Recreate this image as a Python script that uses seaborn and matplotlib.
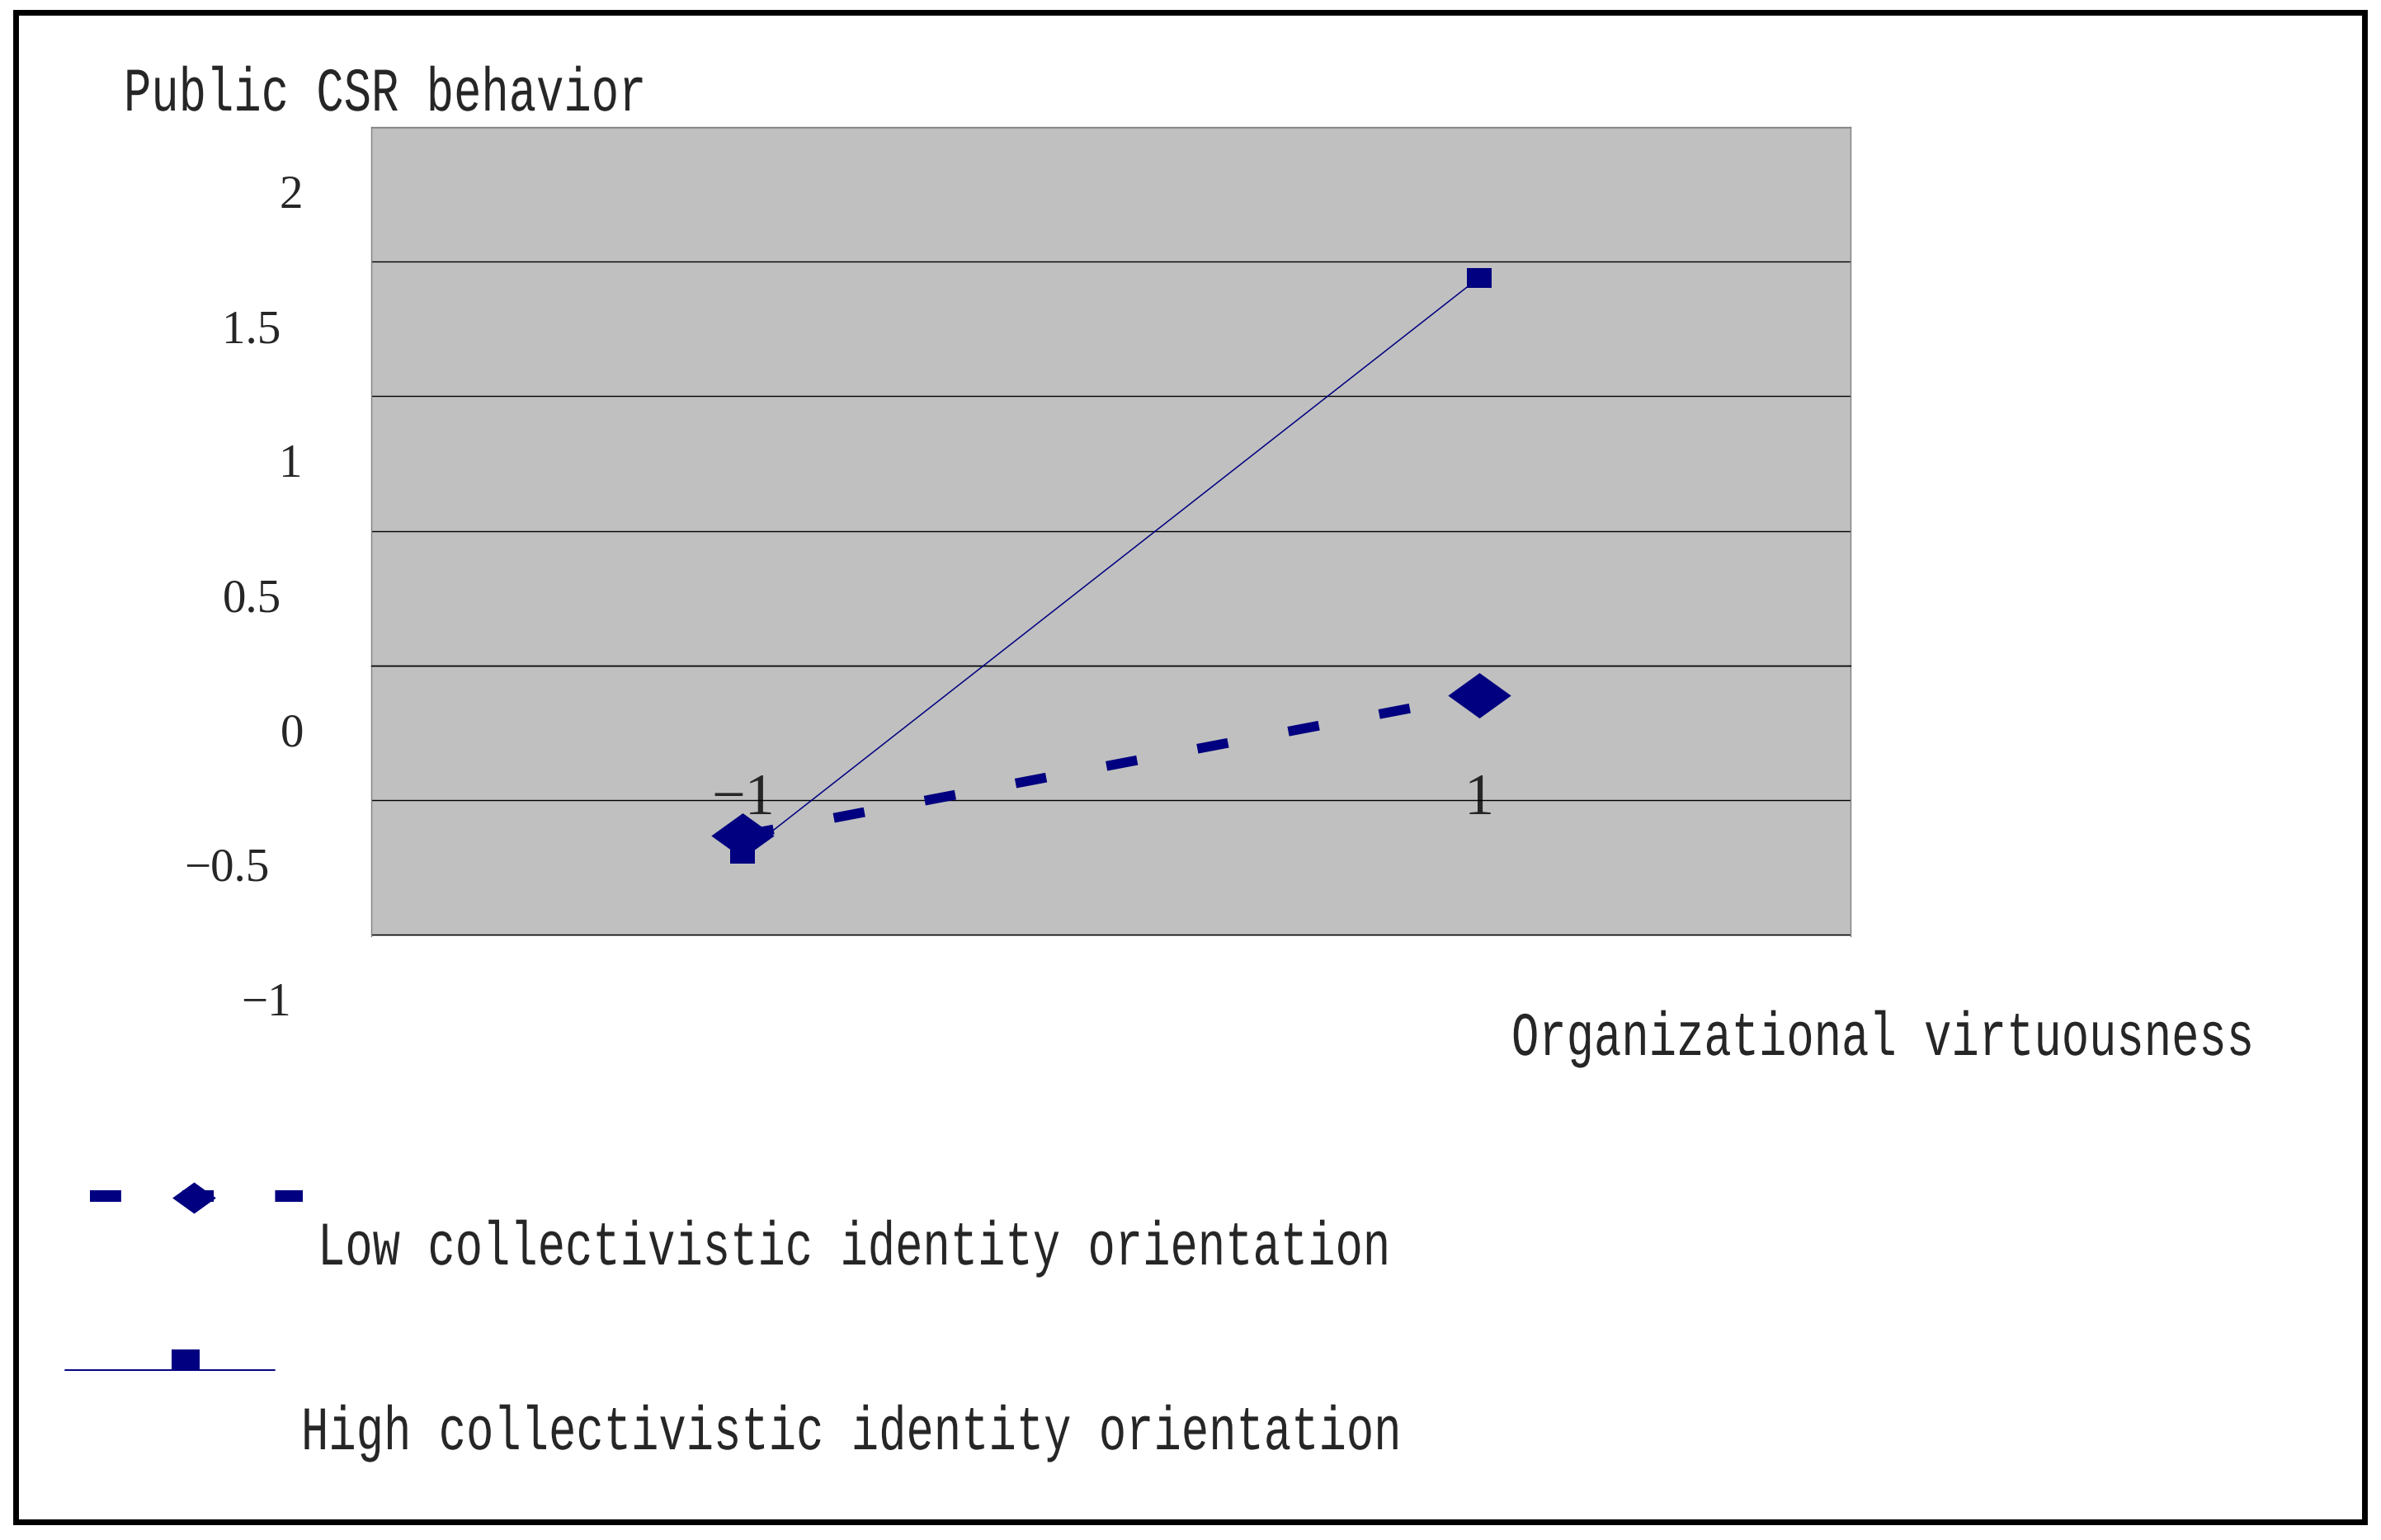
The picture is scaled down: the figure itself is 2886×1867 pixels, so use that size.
import numpy as np
import pandas as pd
import matplotlib
matplotlib.use("Agg")
import matplotlib.pyplot as plt
import seaborn as sns
from matplotlib.path import Path
from matplotlib.lines import Line2D
from matplotlib.patches import Rectangle
from matplotlib.transforms import ScaledTranslation, Affine2D
from matplotlib.patheffects import AbstractPathEffect

# data
virtuousness = [-1, 1]
low_collectivism = [-0.63, -0.11]
high_collectivism = [-0.70, 1.44]
y_ticks = [-1, -0.5, 0, 0.5, 1, 1.5, 2]
y_tick_labels = ["\u22121", "\u22120.5", "0", "0.5", "1", "1.5", "2"]
x_label_pos = [-1, 1]
x_tick_labels = ["\u22121", "1"]
series_names = ["Low collectivistic identity orientation",
                "High collectivistic identity orientation"]

navy = "#000080"
W, H = 2886, 1867


class Tall(AbstractPathEffect):
    # stretch glyphs upwards from the baseline, the original font is tall and narrow
    def __init__(self, sy):
        super().__init__()
        self.sy = sy

    def draw_path(self, renderer, gc, tpath, affine, rgbFace=None):
        renderer.draw_path(gc, tpath, Affine2D().scale(1, self.sy) + affine, rgbFace)


tall = [Tall(1.35)]

sns.set_style("white")
plt.rcParams["font.family"] = ["Liberation Mono", "DejaVu Sans"]

fig = plt.figure(figsize=(W / 100, H / 100), dpi=100)
ax = fig.add_axes([450 / W, 1 - 1135 / H, 1793 / W, 981 / H])
ax.set_facecolor("#c0c0c0")

# wide diamond and slightly flat square, like the excel markers
diamond = Path([(-1, 0), (0, 0.72), (1, 0), (0, -0.72), (-1, 0)],
               [Path.MOVETO, Path.LINETO, Path.LINETO, Path.LINETO, Path.CLOSEPOLY])
box = Path([(-1, -0.8), (1, -0.8), (1, 0.8), (-1, 0.8), (-1, -0.8)],
           [Path.MOVETO, Path.LINETO, Path.LINETO, Path.LINETO, Path.CLOSEPOLY])

sns.lineplot(x=virtuousness, y=high_collectivism, ax=ax, color=navy, lw=1.1,
             marker=box, markersize=22, markeredgewidth=0, errorbar=None,
             sort=False, zorder=3)
sns.lineplot(x=virtuousness, y=low_collectivism, ax=ax, color=navy, lw=8.5,
             linestyle=(0, (3.2, 6.3)), dash_capstyle="butt", marker=diamond,
             markersize=55, markeredgewidth=0, errorbar=None, sort=False, zorder=4)

ax.set_xlim(-2.01, 2.01)
ax.set_ylim(-1.005, 2)

# y axis: gridlines at the ticks, labels sit half a step lower and a bit ragged
ax.set_yticks(y_ticks, labels=y_tick_labels)
ax.tick_params(axis="y", direction="in", length=6, width=1.5, pad=60,
               labelsize=41, labelfontfamily="Liberation Serif")
nudge = {"2": 0, "1.5": -26, "1": 0, "0.5": -26, "0": 2, "\u22120.5": -40, "\u22121": -14}
for lab in ax.get_yticklabels():
    dx = nudge.get(lab.get_text(), 0) / 100
    lab.set_transform(lab.get_transform() + ScaledTranslation(dx, -56 / 72, fig.dpi_scale_trans))
ax.grid(axis="y", color="black", lw=1.0)
ax.grid(axis="x", visible=False)

# x axis crosses at y = 0
ax.spines["bottom"].set_position(("data", 0))
ax.spines["bottom"].set_color("black")
ax.spines["bottom"].set_linewidth(1.0)
for s in ["left", "top", "right"]:
    ax.spines[s].set_color("#808080")
    ax.spines[s].set_linewidth(1.0)
ax.set_xticks([0, 2], labels=["", ""])
ax.tick_params(axis="x", which="major", direction="in", length=16, width=1, color="black")
ax.set_xticks(x_label_pos, labels=x_tick_labels, minor=True)
ax.tick_params(axis="x", which="minor", length=0, pad=94, labelsize=52,
               labelfontfamily="Liberation Serif")

ax.set_ylabel("Public CSR behavior", rotation=0, fontsize=40, ha="left", va="baseline",
              path_effects=tall)
ax.yaxis.set_label_coords((150 - 450) / 1793, (1135 - 134) / 981)
ax.set_xlabel("Organizational virtuousness", fontsize=40, ha="left", va="baseline",
              path_effects=tall)
ax.xaxis.set_label_coords((1832 - 450) / 1793, (1135 - 1279) / 981)

# legend drawn like the original: sample above, text below
fig.add_artist(Line2D([109 / W, 367 / W], [1 - 1450 / H] * 2, color=navy, lw=10.1,
                      linestyle=(0, (2.7, 5.3)), dash_capstyle="butt"))
fig.add_artist(Line2D([235 / W], [1 - 1452 / H], color=navy, marker=diamond,
                      markersize=38, markeredgewidth=0, linestyle="none"))
fig.add_artist(Line2D([79 / W, 333 / W], [1 - 1661 / H] * 2, color=navy, lw=1.4))
fig.add_artist(Line2D([225 / W], [1 - 1649 / H], color=navy, marker=box,
                      markersize=24, markeredgewidth=0, linestyle="none"))
fig.text(385 / W, 1 - 1533 / H, series_names[0], fontsize=40, va="baseline",
         path_effects=tall)
fig.text(365 / W, 1 - 1757 / H, series_names[1], fontsize=40, va="baseline",
         path_effects=tall)

# outer frame
fig.add_artist(Rectangle((18.5 / W, 1 - 1845 / H), (2866 - 18.5) / W, (1845 - 15) / H,
                         transform=fig.transFigure, fill=False, ec="black", lw=5))

fig.savefig("out.png", dpi=100)
